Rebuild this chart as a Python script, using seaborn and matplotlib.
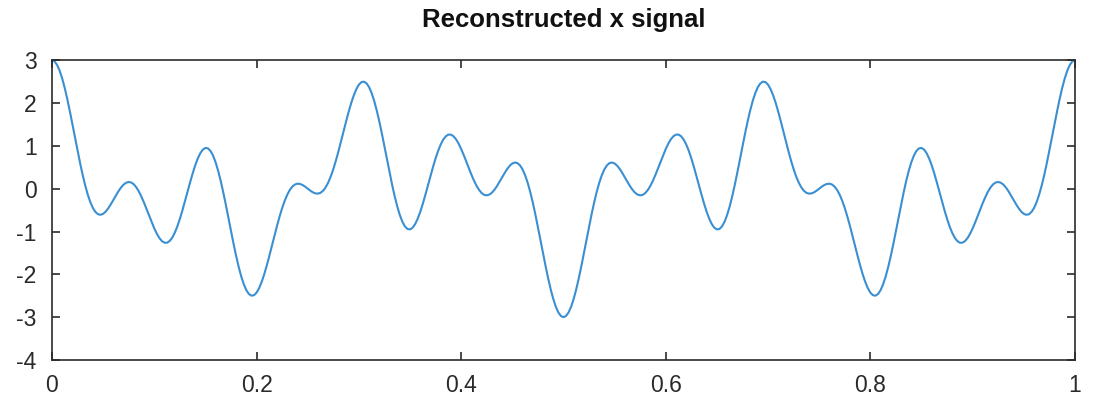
import numpy as np
import pandas as pd
import matplotlib
matplotlib.use("Agg")
import matplotlib.pyplot as plt
import seaborn as sns

# Sample times (401 samples over [0, 1])
t_values = np.linspace(0.0, 1.0, 401)

# Reconstructed signal values at each sample time
x_values = [
    # 0.0000 .. 0.2500
    3.000, 2.972, 2.889, 2.754, 2.572, 2.348, 2.089, 1.805, 1.504, 1.197,
    0.891, 0.597, 0.323, 0.075, -0.139, -0.315, -0.451, -0.544, -0.597, -0.610,
    -0.588, -0.536, -0.459, -0.366, -0.263, -0.159, -0.060, 0.027, 0.095, 0.139,
    0.156, 0.144, 0.102, 0.030, -0.068, -0.190, -0.328, -0.478, -0.633, -0.785,
    -0.927, -1.052, -1.153, -1.224, -1.261, -1.262, -1.223, -1.146, -1.031, -0.884,
    -0.707, -0.508, -0.294, -0.074, 0.145, 0.353, 0.542, 0.702, 0.828, 0.912,
    0.951, 0.941, 0.880, 0.770, 0.613, 0.413, 0.176, -0.092, -0.381, -0.683,
    -0.988, -1.286, -1.567, -1.824, -2.047, -2.231, -2.369, -2.459, -2.498, -2.487,
    -2.427, -2.322, -2.177, -1.998, -1.792, -1.568, -1.333, -1.097, -0.867, -0.651,
    -0.454, -0.283, -0.141, -0.030, 0.049, 0.097, 0.116, 0.110, 0.085, 0.046,
    0.000,
    # 0.2525 .. 0.5000
    -0.046, -0.085, -0.110, -0.116, -0.097, -0.049, 0.030, 0.141, 0.283, 0.454,
    0.651, 0.867, 1.097, 1.333, 1.568, 1.792, 1.998, 2.177, 2.322, 2.427,
    2.487, 2.498, 2.459, 2.369, 2.231, 2.047, 1.824, 1.567, 1.286, 0.988,
    0.683, 0.381, 0.092, -0.176, -0.413, -0.613, -0.770, -0.880, -0.941, -0.951,
    -0.912, -0.828, -0.702, -0.542, -0.353, -0.145, 0.074, 0.294, 0.508, 0.707,
    0.884, 1.031, 1.146, 1.223, 1.262, 1.261, 1.224, 1.153, 1.052, 0.927,
    0.785, 0.633, 0.478, 0.328, 0.190, 0.068, -0.030, -0.102, -0.144, -0.156,
    -0.139, -0.095, -0.027, 0.060, 0.159, 0.263, 0.366, 0.459, 0.536, 0.588,
    0.610, 0.597, 0.544, 0.451, 0.315, 0.139, -0.075, -0.323, -0.597, -0.891,
    -1.197, -1.504, -1.805, -2.089, -2.348, -2.572, -2.754, -2.889, -2.972, -3.000,
    # 0.5025 .. 0.7475
    -2.972, -2.889, -2.754, -2.572, -2.348, -2.089, -1.805, -1.504, -1.197, -0.891,
    -0.597, -0.323, -0.075, 0.139, 0.315, 0.451, 0.544, 0.597, 0.610, 0.588,
    0.536, 0.459, 0.366, 0.263, 0.159, 0.060, -0.027, -0.095, -0.139, -0.156,
    -0.144, -0.102, -0.030, 0.068, 0.190, 0.328, 0.478, 0.633, 0.785, 0.927,
    1.052, 1.153, 1.224, 1.261, 1.262, 1.223, 1.146, 1.031, 0.884, 0.707,
    0.508, 0.294, 0.074, -0.145, -0.353, -0.542, -0.702, -0.828, -0.912, -0.951,
    -0.941, -0.880, -0.770, -0.613, -0.413, -0.176, 0.092, 0.381, 0.683, 0.988,
    1.286, 1.567, 1.824, 2.047, 2.231, 2.369, 2.459, 2.498, 2.487, 2.427,
    2.322, 2.177, 1.998, 1.792, 1.568, 1.333, 1.097, 0.867, 0.651, 0.454,
    0.283, 0.141, 0.030, -0.049, -0.097, -0.116, -0.110, -0.085, -0.046,
    # 0.7500 .. 1.0000
    0.000,
    0.046, 0.085, 0.110, 0.116, 0.097, 0.049, -0.030, -0.141, -0.283, -0.454,
    -0.651, -0.867, -1.097, -1.333, -1.568, -1.792, -1.998, -2.177, -2.322, -2.427,
    -2.487, -2.498, -2.459, -2.369, -2.231, -2.047, -1.824, -1.567, -1.286, -0.988,
    -0.683, -0.381, -0.092, 0.176, 0.413, 0.613, 0.770, 0.880, 0.941, 0.951,
    0.912, 0.828, 0.702, 0.542, 0.353, 0.145, -0.074, -0.294, -0.508, -0.707,
    -0.884, -1.031, -1.146, -1.223, -1.262, -1.261, -1.224, -1.153, -1.052, -0.927,
    -0.785, -0.633, -0.478, -0.328, -0.190, -0.068, 0.030, 0.102, 0.144, 0.156,
    0.139, 0.095, 0.027, -0.060, -0.159, -0.263, -0.366, -0.459, -0.536, -0.588,
    -0.610, -0.597, -0.544, -0.451, -0.315, -0.139, 0.075, 0.323, 0.597, 0.891,
    1.197, 1.504, 1.805, 2.089, 2.348, 2.572, 2.754, 2.889, 2.972, 3.000,
]

x_ticks = [0, 0.2, 0.4, 0.6, 0.8, 1]
x_tick_labels = ["0", "0.2", "0.4", "0.6", "0.8", "1"]
y_ticks = [-4, -3, -2, -1, 0, 1, 2, 3]
y_tick_labels = ["-4", "-3", "-2", "-1", "0", "1", "2", "3"]
title_text = "Reconstructed x signal"

sns.set_style("white")
plt.rcParams["font.family"] = ["Liberation Sans", "DejaVu Sans"]

df = pd.DataFrame({"t": t_values, "x": x_values})

fig = plt.figure(figsize=(10.94, 4.01), dpi=100)
ax = fig.add_axes([0.0475, 0.1022, 0.9351, 0.7478])

sns.lineplot(data=df, x="t", y="x", ax=ax, color="#3a8fd2", linewidth=1.5,
             estimator=None, sort=False)

ax.set_xlim(0, 1)
ax.set_ylim(-4, 3)
ax.set_xticks(x_ticks)
ax.set_xticklabels(x_tick_labels)
ax.set_yticks(y_ticks)
ax.set_yticklabels(y_tick_labels)
ax.set_xlabel("")
ax.set_ylabel("")
ax.set_title(title_text, fontsize=18.5, fontweight="bold", color="#111111", pad=24)

for side in ["left", "right", "top", "bottom"]:
    ax.spines[side].set_visible(True)
    ax.spines[side].set_color("#2b2b2b")
    ax.spines[side].set_linewidth(1.2)

ax.tick_params(axis="both", which="both", direction="in", length=6, width=1.2,
               color="#2b2b2b", labelsize=16.5, labelcolor="#2a2a2a",
               top=True, right=True, left=True, bottom=True)
ax.tick_params(axis="x", pad=10)
ax.tick_params(axis="y", pad=11)

fig.savefig("out.png", dpi=100)
